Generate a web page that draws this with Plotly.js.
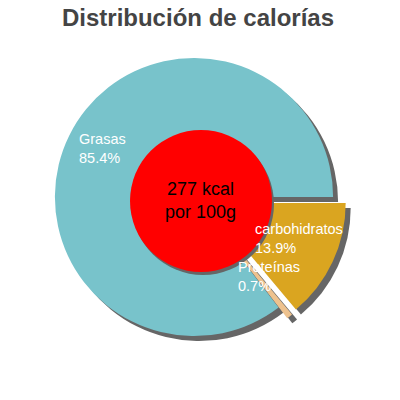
<!DOCTYPE html>
<html>
<head>
<meta charset="utf-8">
<script src="https://cdn.plot.ly/plotly-3.0.1.min.js"></script>
<style>
  html, body { margin: 0; padding: 0; background: #fff; }
  #chart { width: 400px; height: 400px; }
</style>
</head>
<body>
<div id="chart"></div>
<script>
// slice order starts at 3 o'clock and runs clockwise
var labels = ['carbohidratos', 'Proteínas', 'Grasas'];
var values = [13.9, 0.7, 85.4];
var colors = ['#daa520', '#eec28e', '#78c3cb'];
var pulls = [0.1, 0.1, 0];
var centerText = '277 kcal<br>por 100g';
var titleText = 'Distribución de calorías';

// where the white labels sit (paper coords)
var labelPos = [[0.633, 0.405], [0.59, 0.31], [0.193, 0.628]];

var pieDomain = {x: [0.1025, 0.8675], y: [0.125, 0.89]};
var shadowDomain = {x: [0.115, 0.88], y: [0.1125, 0.8775]};

var traces = [];
// grey shadow under the pie
traces.push({
    type: 'pie',
    labels: labels,
    values: values,
    sort: false,
    direction: 'clockwise',
    rotation: 90,
    pull: pulls,
    marker: {colors: ['#666666', '#666666', '#666666']},
    textinfo: 'none',
    hoverinfo: 'skip',
    showlegend: false,
    domain: shadowDomain
});
traces.push({
    type: 'pie',
    labels: labels,
    values: values,
    sort: false,
    direction: 'clockwise',
    rotation: 90,
    pull: pulls,
    marker: {colors: colors},
    textinfo: 'none',
    showlegend: false,
    domain: pieDomain
});

var font = "'Liberation Sans', Arial, sans-serif";
var annotations = [];
for (var i = 0; i < labels.length; i++) {
    annotations.push({
        xref: 'paper', yref: 'paper',
        x: labelPos[i][0], y: labelPos[i][1],
        xanchor: 'left', yanchor: 'middle',
        align: 'left',
        showarrow: false,
        text: labels[i] + '<br>' + values[i].toFixed(1) + '%',
        font: {family: font, size: 14.5, color: '#ffffff'}
    });
}
annotations.push({
    xref: 'paper', yref: 'paper',
    x: 0.5, y: 0.4975,
    xanchor: 'center', yanchor: 'middle',
    showarrow: false,
    text: centerText,
    font: {family: font, size: 18, color: '#000000'}
});

var layout = {
    width: 400,
    height: 400,
    margin: {l: 0, r: 0, t: 0, b: 0},
    paper_bgcolor: '#ffffff',
    showlegend: false,
    title: {
        text: '<b>' + titleText + '</b>',
        x: 0.495, xanchor: 'center',
        y: 0.955, yanchor: 'middle',
        font: {family: font, size: 24, color: '#444444'}
    },
    shapes: [
        {type: 'circle', xref: 'paper', yref: 'paper', layer: 'above',
         x0: 0.33, x1: 0.685, y0: 0.3125, y1: 0.6675,
         fillcolor: '#666666', line: {width: 0}},
        {type: 'circle', xref: 'paper', yref: 'paper', layer: 'above',
         x0: 0.325, x1: 0.68, y0: 0.32, y1: 0.675,
         fillcolor: '#ff0000', line: {width: 0}}
    ],
    annotations: annotations
};

Plotly.newPlot('chart', traces, layout, {displayModeBar: false, staticPlot: true});
</script>
</body>
</html>
